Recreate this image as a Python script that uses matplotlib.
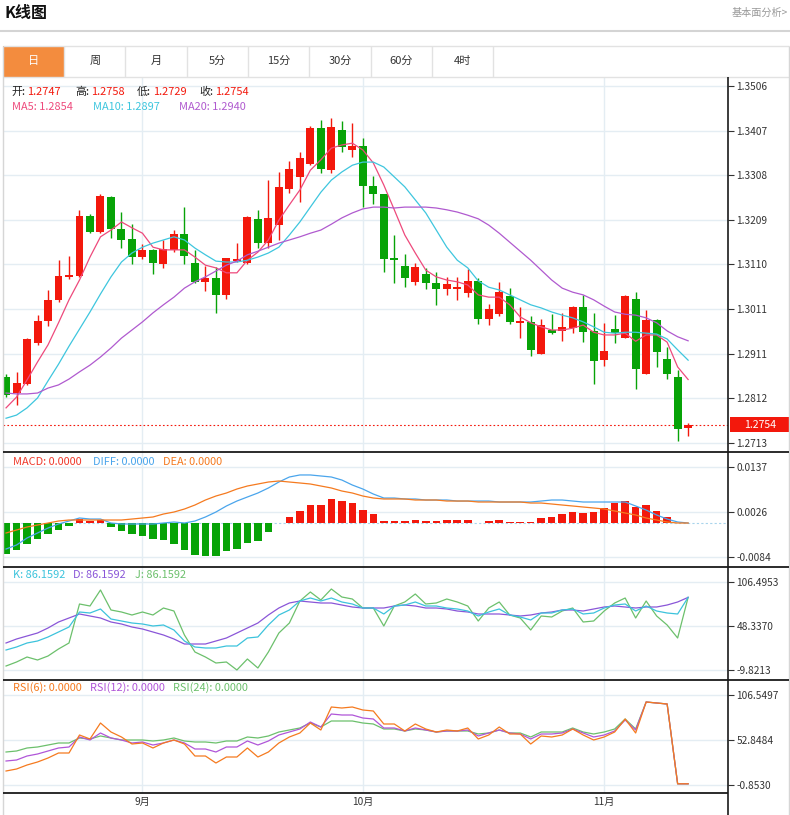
import matplotlib
matplotlib.use('Agg')
import matplotlib.pyplot as plt
import matplotlib.transforms as mtransforms
from matplotlib.patches import Rectangle
from matplotlib.lines import Line2D
import numpy as np

plt.rcParams['font.family'] = ['Noto Sans CJK SC', 'DejaVu Sans']

# ---------------- data ----------------
opens = [1.2860, 1.2824, 1.2844, 1.2935, 1.2984, 1.3031, 1.3082, 1.3084, 1.3217, 1.3182,
         1.3259, 1.3188, 1.3166, 1.3126, 1.3142, 1.3111, 1.3142, 1.3177, 1.3113, 1.3071,
         1.3079, 1.3042, 1.3117, 1.3113, 1.3211, 1.3157, 1.3197, 1.3277, 1.3304, 1.3333,
         1.3413, 1.3319, 1.3408, 1.3364, 1.3373, 1.3284, 1.3266, 1.3124, 1.3106, 1.3071,
         1.3088, 1.3068, 1.3055, 1.3055, 1.3046, 1.3073, 1.2988, 1.2999, 1.3040, 1.2980,
         1.2982, 1.2911, 1.2964, 1.2962, 1.2968, 1.3015, 1.2962, 1.2897, 1.2966, 1.2946,
         1.3033, 1.2866, 1.2986, 1.2900, 1.2860, 1.2747]
highs = [1.2866, 1.2871, 1.2946, 1.2997, 1.3053, 1.3119, 1.3128, 1.3231, 1.3222, 1.3266,
         1.3262, 1.3226, 1.3199, 1.3155, 1.3144, 1.3164, 1.3186, 1.3237, 1.3142, 1.3106,
         1.3104, 1.3124, 1.3157, 1.3217, 1.3231, 1.3297, 1.3315, 1.3339, 1.3359, 1.3417,
         1.3430, 1.3435, 1.3428, 1.3424, 1.3390, 1.3306, 1.3266, 1.3175, 1.3133, 1.3113,
         1.3102, 1.3093, 1.3082, 1.3082, 1.3099, 1.3079, 1.3022, 1.3071, 1.3057, 1.3015,
         1.2995, 1.2988, 1.2999, 1.3002, 1.3017, 1.3042, 1.3002, 1.2980, 1.2997, 1.3042,
         1.3048, 1.3008, 1.2988, 1.2926, 1.2875, 1.2758]
lows = [1.2815, 1.2797, 1.2842, 1.2931, 1.2973, 1.3026, 1.3077, 1.3082, 1.3179, 1.3179,
        1.3168, 1.3146, 1.3111, 1.3122, 1.3088, 1.3102, 1.3137, 1.3111, 1.3068, 1.3051,
        1.3002, 1.3033, 1.3115, 1.3111, 1.3146, 1.3146, 1.3164, 1.3268, 1.3248, 1.3330,
        1.3313, 1.3313, 1.3359, 1.3348, 1.3237, 1.3244, 1.3093, 1.3068, 1.3059, 1.3064,
        1.3055, 1.3020, 1.3042, 1.3031, 1.3037, 1.2977, 1.2975, 1.2995, 1.2977, 1.2946,
        1.2906, 1.2911, 1.2955, 1.2939, 1.2957, 1.2937, 1.2844, 1.2884, 1.2935, 1.2946,
        1.2833, 1.2866, 1.2882, 1.2855, 1.2718, 1.2729]
closes = [1.2820, 1.2846, 1.2944, 1.2984, 1.3031, 1.3084, 1.3086, 1.3217, 1.3182, 1.3262,
          1.3188, 1.3164, 1.3126, 1.3142, 1.3113, 1.3144, 1.3177, 1.3128, 1.3071, 1.3079,
          1.3042, 1.3124, 1.3122, 1.3215, 1.3157, 1.3213, 1.3282, 1.3322, 1.3346, 1.3413,
          1.3322, 1.3415, 1.3370, 1.3373, 1.3284, 1.3266, 1.3122, 1.3119, 1.3079, 1.3104,
          1.3068, 1.3055, 1.3066, 1.3059, 1.3073, 1.2988, 1.3011, 1.3048, 1.2982, 1.2984,
          1.2920, 1.2975, 1.2957, 1.2971, 1.3015, 1.2959, 1.2895, 1.2917, 1.2957, 1.3040,
          1.2877, 1.2986, 1.2915, 1.2866, 1.2744, 1.2754]

ma5 = [1.2791, 1.2815, 1.2853, 1.2893, 1.2931, 1.2980, 1.3031, 1.3075, 1.3126, 1.3171,
       1.3186, 1.3204, 1.3191, 1.3179, 1.3148, 1.3142, 1.3142, 1.3142, 1.3126, 1.3108,
       1.3102, 1.3091, 1.3091, 1.3119, 1.3137, 1.3164, 1.3208, 1.3242, 1.3275, 1.3319,
       1.3342, 1.3368, 1.3375, 1.3379, 1.3364, 1.3335, 1.3286, 1.3231, 1.3175, 1.3135,
       1.3097, 1.3082, 1.3075, 1.3071, 1.3064, 1.3042, 1.3037, 1.3037, 1.3020, 1.2993,
       1.2980, 1.2971, 1.2964, 1.2964, 1.2968, 1.2975, 1.2959, 1.2953, 1.2953, 1.2957,
       1.2939, 1.2953, 1.2953, 1.2937, 1.2882, 1.2854]
ma10 = [1.2768, 1.2775, 1.2791, 1.2813, 1.2851, 1.2888, 1.2928, 1.2966, 1.3004, 1.3044,
        1.3082, 1.3115, 1.3135, 1.3148, 1.3157, 1.3164, 1.3171, 1.3164, 1.3146, 1.3131,
        1.3117, 1.3115, 1.3115, 1.3119, 1.3126, 1.3135, 1.3148, 1.3175, 1.3204, 1.3237,
        1.3270, 1.3297, 1.3315, 1.3330, 1.3337, 1.3337, 1.3326, 1.3304, 1.3282, 1.3253,
        1.3224, 1.3186, 1.3148, 1.3119, 1.3102, 1.3073, 1.3059, 1.3053, 1.3042, 1.3031,
        1.3020, 1.3013, 1.3004, 1.2997, 1.2991, 1.2982, 1.2971, 1.2959, 1.2957, 1.2959,
        1.2959, 1.2957, 1.2955, 1.2944, 1.2920, 1.2897]
ma20 = [1.2824, 1.2822, 1.2822, 1.2824, 1.2835, 1.2842, 1.2855, 1.2871, 1.2886, 1.2904,
        1.2924, 1.2946, 1.2964, 1.2982, 1.3002, 1.3020, 1.3037, 1.3057, 1.3071, 1.3082,
        1.3095, 1.3108, 1.3117, 1.3131, 1.3139, 1.3148, 1.3157, 1.3164, 1.3171, 1.3179,
        1.3186, 1.3199, 1.3213, 1.3224, 1.3233, 1.3237, 1.3237, 1.3235, 1.3237, 1.3237,
        1.3237, 1.3235, 1.3231, 1.3226, 1.3219, 1.3211, 1.3197, 1.3179, 1.3159, 1.3139,
        1.3119, 1.3097, 1.3075, 1.3057, 1.3048, 1.3042, 1.3031, 1.3017, 1.3004, 1.2999,
        1.2997, 1.2991, 1.2980, 1.2962, 1.2949, 1.2940]

macd_hist = [-0.00771, -0.00673, -0.00525, -0.00403, -0.00280, -0.00182, -0.00083, 0.00088, 0.00039, 0.00064,
             -0.00108, -0.00206, -0.00280, -0.00329, -0.00403, -0.00427, -0.00525, -0.00673, -0.00796, -0.00820,
             -0.00820, -0.00697, -0.00648, -0.00501, -0.00452, -0.00231, -0.00010, 0.00138, 0.00285, 0.00432,
             0.00432, 0.00580, 0.00530, 0.00481, 0.00309, 0.00211, 0.00039, 0.00039, 0.00032, 0.00064,
             0.00039, 0.00039, 0.00064, 0.00064, 0.00064, 0.00000, 0.00039, 0.00064, 0.00010, 0.00010,
             0.00010, 0.00113, 0.00138, 0.00211, 0.00260, 0.00236, 0.00260, 0.00359, 0.00481, 0.00530,
             0.00383, 0.00432, 0.00285, 0.00138, 0.00000, 0.00000]
diff = [-0.00648, -0.00550, -0.00378, -0.00255, -0.00133, -0.00034, 0.00039, 0.00113, 0.00088, 0.00088,
        -0.00010, -0.00034, -0.00034, -0.00034, -0.00034, -0.00010, 0.00015, -0.00010, 0.00039, 0.00138,
        0.00260, 0.00408, 0.00530, 0.00629, 0.00727, 0.00850, 0.00997, 0.01120, 0.01170, 0.01170,
        0.01145, 0.01120, 0.01046, 0.00923, 0.00825, 0.00702, 0.00604, 0.00604, 0.00580, 0.00580,
        0.00555, 0.00555, 0.00555, 0.00530, 0.00530, 0.00530, 0.00530, 0.00506, 0.00506, 0.00506,
        0.00506, 0.00530, 0.00555, 0.00555, 0.00530, 0.00506, 0.00506, 0.00506, 0.00506, 0.00506,
        0.00408, 0.00309, 0.00187, 0.00088, 0.00015, -0.00010]
dea = [-0.00255, -0.00182, -0.00108, -0.00059, -0.00010, 0.00039, 0.00064, 0.00064, 0.00064, 0.00064,
       0.00064, 0.00064, 0.00088, 0.00113, 0.00138, 0.00211, 0.00260, 0.00334, 0.00432, 0.00555,
       0.00653, 0.00727, 0.00825, 0.00899, 0.00948, 0.00997, 0.01022, 0.00997, 0.00973, 0.00948,
       0.00899, 0.00850, 0.00776, 0.00727, 0.00653, 0.00604, 0.00580, 0.00580, 0.00580, 0.00555,
       0.00555, 0.00555, 0.00530, 0.00530, 0.00530, 0.00506, 0.00506, 0.00506, 0.00506, 0.00506,
       0.00481, 0.00481, 0.00457, 0.00432, 0.00408, 0.00383, 0.00359, 0.00334, 0.00285, 0.00236,
       0.00187, 0.00113, 0.00064, 0.00015, -0.00010, -0.00010]

k_vals = [16.61, 20.58, 25.87, 28.51, 33.80, 40.41, 47.01, 66.84, 65.52, 70.81,
          57.59, 54.95, 52.30, 50.98, 48.34, 49.66, 43.05, 28.51, 20.58, 19.26,
          19.26, 21.90, 21.90, 32.48, 33.80, 49.66, 62.88, 69.49, 81.38, 85.35,
          81.38, 85.35, 80.06, 77.42, 72.13, 72.13, 64.20, 74.77, 76.09, 80.06,
          74.77, 74.77, 72.13, 70.81, 68.16, 61.55, 66.84, 70.81, 62.88, 60.23,
          56.27, 65.52, 65.52, 69.49, 70.81, 64.20, 65.52, 72.13, 76.09, 77.42,
          68.16, 74.77, 68.16, 65.52, 64.20, 86.1592]
d_vals = [25.87, 31.15, 35.12, 39.08, 45.69, 53.62, 58.91, 64.20, 61.55, 58.91,
          53.62, 50.98, 47.01, 44.37, 40.41, 36.44, 31.15, 24.54, 24.54, 24.54,
          28.51, 32.48, 39.08, 45.69, 52.30, 62.88, 72.13, 78.74, 81.38, 80.06,
          78.74, 78.74, 76.09, 73.45, 72.13, 72.13, 72.13, 74.77, 76.09, 74.77,
          72.13, 72.13, 70.81, 68.16, 66.84, 64.20, 64.20, 64.20, 62.88, 61.55,
          62.88, 65.52, 66.84, 69.49, 69.49, 68.16, 70.81, 73.45, 74.77, 73.45,
          72.13, 73.45, 73.45, 76.09, 80.06, 86.1592]
j_vals = [-4.54, 0.75, 7.36, 3.40, 8.68, 17.94, 25.87, 77.42, 74.77, 95.92,
          69.49, 66.84, 62.88, 66.84, 62.88, 72.13, 68.16, 36.44, 13.97, 7.36,
          -0.57, 0.75, -9.82, 4.72, -7.18, 13.97, 39.08, 52.30, 81.38, 93.28,
          82.70, 97.24, 86.67, 84.02, 72.13, 72.13, 48.34, 74.77, 80.06, 90.63,
          77.42, 78.74, 84.02, 80.06, 74.77, 54.95, 72.13, 80.06, 62.88, 58.91,
          43.05, 61.55, 60.23, 68.16, 72.13, 53.62, 54.95, 68.16, 78.74, 85.35,
          58.91, 81.38, 61.55, 49.66, 32.48, 86.1592]

rsi6 = [15.44, 17.85, 22.68, 26.30, 31.12, 37.16, 37.16, 58.88, 54.06, 73.36,
        62.50, 56.47, 48.02, 49.23, 43.20, 49.23, 52.85, 48.02, 33.54, 33.54,
        25.09, 32.33, 32.33, 43.20, 32.33, 38.37, 49.23, 56.47, 61.30, 73.36,
        64.92, 92.67, 91.46, 92.67, 89.05, 87.84, 72.16, 72.16, 63.71, 72.16,
        66.12, 62.50, 64.92, 63.71, 67.33, 54.06, 58.88, 68.53, 60.09, 60.09,
        48.02, 57.68, 56.47, 58.88, 66.12, 58.88, 52.85, 56.47, 62.50, 78.19,
        61.30, 98.70, 97.50, 96.29, 0.0, 0.0]
rsi12 = [27.50, 28.71, 33.54, 35.95, 39.57, 43.20, 44.40, 56.47, 52.85, 61.30,
         55.26, 52.85, 49.23, 50.44, 46.81, 49.23, 52.85, 49.23, 41.99, 41.99,
         38.37, 44.40, 44.40, 51.64, 46.81, 51.64, 58.88, 62.50, 66.12, 74.57,
         68.53, 84.22, 83.02, 83.02, 79.40, 78.19, 67.33, 67.33, 63.71, 67.33,
         64.92, 62.50, 63.71, 63.71, 64.92, 57.68, 61.30, 64.92, 61.30, 60.09,
         54.06, 60.09, 60.09, 61.30, 66.12, 61.30, 56.47, 58.88, 63.71, 76.98,
         64.92, 98.70, 97.50, 96.29, 0.0, 0.0]
rsi24 = [38.37, 39.57, 43.20, 44.40, 46.81, 49.23, 49.23, 55.26, 54.06, 57.68,
         55.26, 52.85, 52.85, 52.85, 51.64, 52.85, 55.26, 51.64, 50.44, 50.44,
         49.23, 51.64, 51.64, 56.47, 55.26, 57.68, 62.50, 64.92, 67.33, 73.36,
         68.53, 75.78, 75.78, 75.78, 73.36, 72.16, 66.12, 66.12, 63.71, 66.12,
         64.92, 62.50, 63.71, 63.71, 63.71, 60.09, 61.30, 64.92, 61.30, 61.30,
         56.47, 62.50, 62.50, 62.50, 67.33, 62.50, 60.09, 62.50, 66.12, 78.19,
         66.12, 98.70, 97.50, 96.29, 0.0, 0.0]

price_ticks = [1.3506, 1.3407, 1.3308, 1.3209, 1.3110, 1.3011, 1.2911, 1.2812, 1.2713]
macd_ticks = [0.0137, 0.0026, -0.0084]
kdj_ticks = [106.4953, 48.3370, -9.8213]
rsi_ticks = [106.5497, 52.8484, -0.8530]
month_idx = [13, 34, 57]
month_labels = ['9月', '10月', '11月']
tabs = ['日', '周', '月', '5分', '15分', '30分', '60分', '4时']

# ---------------- style ----------------
RED = '#f3180c'
GREEN = '#07a307'
C_MA5 = '#ee4a7c'
C_MA10 = '#3ec6de'
C_MA20 = '#b05acf'
C_DIFF = '#4aa5ec'
C_DEA = '#f57a1f'
C_K = '#3cc3dc'
C_D = '#8a56d8'
C_J = '#6cc06c'
C_R6 = '#f57a1f'
C_R12 = '#b056d8'
C_R24 = '#6cc06c'
GRID = '#e4edf3'
TXT = '#333333'

W, H = 790, 815
fig = plt.figure(figsize=(W / 100, H / 100), dpi=100)
fig.patch.set_facecolor('white')


def fx(x):
    return x / W


def fy(y):
    return 1 - y / H


def fline(x0, y0, x1, y1, color, lw=1.0):
    fig.add_artist(Line2D([fx(x0), fx(x1)], [fy(y0), fy(y1)], transform=fig.transFigure,
                          color=color, lw=lw, solid_capstyle='butt'))


def ftext(x, y, s, **kw):
    fig.text(fx(x), fy(y), s, **kw)


n = len(closes)
idx = np.arange(n)
XMIN, XMAX = -0.29, 68.8


def make_ax(top, bottom, ticks, ylim, fmt="{:.4f}"):
    ax = fig.add_axes([fx(3), fy(bottom), (728 - 3) / W, (bottom - top) / H])
    ax.set_xlim(XMIN, XMAX)
    ax.set_ylim(*ylim)
    for s in ax.spines.values():
        s.set_visible(False)
    ax.yaxis.tick_right()
    ax.set_yticks(ticks)
    ax.set_yticklabels([fmt.format(t) for t in ticks])
    ax.tick_params(axis='y', length=4, width=0.8, color=TXT, labelsize=7.3, labelcolor=TXT, pad=2)
    ax.set_xticks([])
    for t in ticks:
        ax.axhline(t, color=GRID, lw=1.0, zorder=0)
    for m in month_idx:
        ax.axvline(m, color=GRID, lw=1.0, zorder=0)
    return ax


# ---------------- header ----------------
ftext(5, 13, 'K线图', fontsize=11.5, fontweight='bold', color='#111', ha='left', va='center')
ftext(788, 13, '基本面分析>', fontsize=7.3, color='#999', ha='right', va='center')
fline(0, 31, 790, 31, '#d4d4d4', 1.5)

# tabs
tab_w = (493 - 3) / len(tabs)
fline(3, 46, 789, 46, '#e2e2e2', 1.0)
fline(3, 76.5, 789, 76.5, '#e2e2e2', 1.0)
for i, t in enumerate(tabs):
    x0 = 3 + i * tab_w
    if i == 0:
        fig.add_artist(Rectangle((fx(x0), fy(76.5)), tab_w / W, 30.5 / H, transform=fig.transFigure,
                                 facecolor='#f38c3e', edgecolor='none'))
    fline(x0 + tab_w, 46, x0 + tab_w, 76.5, '#e2e2e2', 1.0)
    ftext(x0 + tab_w / 2, 61, t, fontsize=8, ha='center', va='center',
          color='white' if i == 0 else TXT)

# ---------------- main price panel ----------------
ax1 = make_ax(77, 452, price_ticks, (1.2693, 1.3526))
o = np.array(opens); c = np.array(closes); hi = np.array(highs); lo = np.array(lows)
up = c >= o
cols = np.where(up, RED, GREEN)
ax1.vlines(idx, lo, hi, colors=cols, lw=1.0, zorder=3)
body_bottom = np.minimum(o, c)
body_h = np.maximum(np.abs(c - o), 0.00022)
ax1.bar(idx, body_h, bottom=body_bottom, width=0.76, color=cols, edgecolor='none', zorder=4)
ax1.plot(idx, ma5, color=C_MA5, lw=0.9, zorder=5)
ax1.plot(idx, ma10, color=C_MA10, lw=0.9, zorder=5)
ax1.plot(idx, ma20, color=C_MA20, lw=0.9, zorder=5)
last = closes[-1]
ax1.axhline(last, color=RED, lw=0.8, ls=(0, (1.5, 2)), zorder=2)
btr = mtransforms.blended_transform_factory(ax1.transAxes, ax1.transData)
box_h = 0.00336
ax1.add_patch(Rectangle(((730 - 3) / 725, last - box_h / 2), (789 - 730) / 725, box_h,
                        transform=btr, facecolor=RED, edgecolor='none', clip_on=False, zorder=6))
ax1.text((760 - 3) / 725, last, f"{last:.4f}", transform=btr, color='white', fontsize=7.6,
         ha='center', va='center', clip_on=False, zorder=7)

# legend texts main
row1 = [('开:', 11, '#222'), (f"{opens[-1]:.4f}", 27, RED), ('高:', 75, '#222'), (f"{highs[-1]:.4f}", 91, RED),
        ('低:', 137, '#222'), (f"{lows[-1]:.4f}", 153, RED), ('收:', 199, '#222'), (f"{closes[-1]:.4f}", 215, RED)]
for s, x, col in row1:
    ftext(x, 92, s, fontsize=7.9, color=col, ha='left', va='center')
row2 = [(f"MA5: {ma5[-1]:.4f}", 12, C_MA5), (f"MA10: {ma10[-1]:.4f}", 93, C_MA10),
        (f"MA20: {ma20[-1]:.4f}", 179, C_MA20)]
for s, x, col in row2:
    ftext(x, 107, s, fontsize=7.9, color=col, ha='left', va='center')

# ---------------- MACD panel ----------------
ax2 = make_ax(452, 567, macd_ticks, (-0.01090, 0.01734))
h = np.array(macd_hist)
ax2.plot([XMIN, XMAX], [0, 0], color='#a8d4ec', lw=0.8, ls=(0, (2, 2)), zorder=1)
ax2.bar(idx, h, width=0.72, color=np.where(h >= 0, RED, GREEN), edgecolor='none', zorder=3)
ax2.plot(idx, diff, color=C_DIFF, lw=0.9, zorder=4)
ax2.plot(idx, dea, color=C_DEA, lw=0.9, zorder=4)
for s, x, col in [('MACD: 0.0000', 13, '#f0392b'), ('DIFF: 0.0000', 93, C_DIFF), ('DEA: 0.0000', 163, C_DEA)]:
    ftext(x, 462, s, fontsize=7.9, color=col, ha='left', va='center')

# ---------------- KDJ panel ----------------
ax3 = make_ax(567, 680, kdj_ticks, (-23.04, 126.32))
ax3.plot(idx, j_vals, color=C_J, lw=0.9, zorder=3)
ax3.plot(idx, d_vals, color=C_D, lw=0.9, zorder=4)
ax3.plot(idx, k_vals, color=C_K, lw=0.9, zorder=5)
for s, x, col in [(f"K: {k_vals[-1]:.4f}", 13, C_K), (f"D: {d_vals[-1]:.4f}", 73, C_D),
                  (f"J: {j_vals[-1]:.4f}", 135, C_J)]:
    ftext(x, 575, s, fontsize=7.9, color=col, ha='left', va='center')

# ---------------- RSI panel ----------------
ax4 = make_ax(680, 793, rsi_ticks, (-11.11, 125.25))
ax4.plot(idx, rsi24, color=C_R24, lw=0.9, zorder=3)
ax4.plot(idx, rsi12, color=C_R12, lw=0.9, zorder=4)
ax4.plot(idx, rsi6, color=C_R6, lw=0.9, zorder=5)
ax4.set_xticks(month_idx)
ax4.set_xticklabels(month_labels)
ax4.tick_params(axis='x', length=0, labelsize=7.3, labelcolor=TXT, pad=3)
for s, x, col in [('RSI(6): 0.0000', 13, C_R6), ('RSI(12): 0.0000', 90, C_R12), ('RSI(24): 0.0000', 173, C_R24)]:
    ftext(x, 688, s, fontsize=7.9, color=col, ha='left', va='center')

# ---------------- frame lines ----------------
fline(3, 46, 3, 815, '#d6d6d6', 1.0)
fline(789, 46, 789, 815, '#d6d6d6', 1.0)
for yy in (452, 567, 680):
    fline(3, yy, 789, yy, '#1a1a1a', 1.3)
fline(3, 793, 728, 793, '#1a1a1a', 1.3)
fline(728, 77, 728, 815, '#1a1a1a', 1.2)

fig.savefig('out.png', dpi=100, facecolor='white')
